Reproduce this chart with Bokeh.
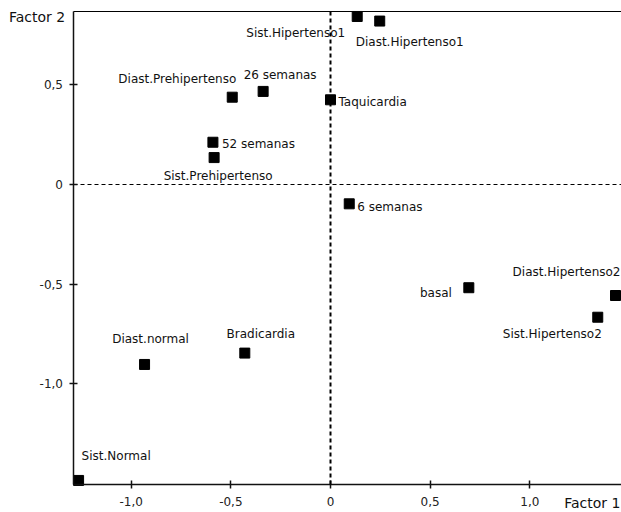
from bokeh.plotting import figure
from bokeh.models import ColumnDataSource, FixedTicker, Label, LinearAxis, Range1d
from bokeh.core.properties import value, field
from bokeh.embed import file_html
from bokeh.resources import INLINE

# Data
names = ["Sist.Normal", "Diast.normal", "Bradicardia", "Diast.Prehipertenso", "26 semanas",
         "52 semanas", "Sist.Prehipertenso", "Taquicardia", "Sist.Hipertenso1",
         "Diast.Hipertenso1", "6 semanas", "basal", "Diast.Hipertenso2", "Sist.Hipertenso2"]
factor1 = [-1.264, -0.933, -0.43, -0.493, -0.338, -0.59, -0.584, 0.0, 0.134, 0.247,
           0.094, 0.694, 1.43, 1.341]
factor2 = [-1.485, -0.903, -0.846, 0.438, 0.467, 0.212, 0.135, 0.425, 0.843, 0.82,
           -0.097, -0.518, -0.557, -0.666]

tick_values = [-1.0, -0.5, 0.0, 0.5, 1.0]
tick_labels = ["-1,0", "-0,5", "0", "0,5", "1,0"]

# Plot box (axis extents) and the visible view
X_LO, X_HI = -1.292, 1.46
Y_LO, Y_HI = -1.505, 0.868
VIEW_X = (-1.6558, 1.4601)
VIEW_Y = (-1.6458, 0.9232)

# Label placement (pixels, style only)
label_align = ["left", "center", "center", "right", "center", "left", "center", "left",
               "right", "left", "left", "right", "right", "right"]
label_dx = [3, 6, 16, 4, 17, 9, 4, 8, -12, -24, 8, -17, 5, 4]
label_dy = [-24, -25, -19, -18, -16, 2, 18, 2, 17, 21, 3, 5, -24, 17]

src = ColumnDataSource(dict(f1=factor1, f2=factor2, name=names, align=label_align,
                            dx=label_dx, dy=label_dy))

p = figure(width=621, height=512, output_backend="svg", toolbar_location=None,
           x_range=Range1d(*VIEW_X), y_range=Range1d(*VIEW_Y),
           x_axis_location=None, y_axis_location=None,
           min_border_left=0, min_border_right=0, min_border_top=0, min_border_bottom=0,
           background_fill_color="white", border_fill_color="white")
p.outline_line_color = None
p.xgrid.visible = False
p.ygrid.visible = False

overrides = {v: t for v, t in zip(tick_values, tick_labels)}


def main_axis(loc, bounds, standoff):
    ax = LinearAxis(fixed_location=loc, bounds=bounds, ticker=FixedTicker(ticks=tick_values))
    ax.major_label_overrides = overrides
    ax.minor_tick_line_color = None
    ax.major_tick_in = 4
    ax.major_tick_out = 4
    ax.axis_line_width = 1.5
    ax.axis_line_color = "#111111"
    ax.major_tick_line_color = "#111111"
    ax.major_tick_line_width = 1.5
    ax.major_label_text_font = "DejaVu Sans"
    ax.major_label_text_font_size = "12px"
    ax.major_label_text_color = "#222222"
    ax.major_label_standoff = standoff
    return ax


def plain_axis(loc, bounds, width, dash):
    return LinearAxis(fixed_location=loc, bounds=bounds, ticker=FixedTicker(ticks=[]),
                      major_label_text_font_size="0px", major_tick_in=0, major_tick_out=0,
                      minor_tick_in=0, minor_tick_out=0, axis_line_color="black",
                      axis_line_width=width, axis_line_dash=dash)


p.add_layout(main_axis(X_LO, (Y_LO, Y_HI), 6), "left")
p.add_layout(main_axis(Y_LO, (X_LO, X_HI), 9), "below")
p.add_layout(plain_axis(Y_HI, (X_LO, X_HI), 1, "solid"), "above")
p.add_layout(plain_axis(0, (Y_LO, Y_HI), 2, "4 3"), "left")
p.add_layout(plain_axis(0, (X_LO, X_HI), 1, "4 3"), "below")

p.scatter(x="f1", y="f2", source=src, marker="square", size=10, color="black")
p.text(x="f1", y="f2", text="name", source=src, text_align=field("align"),
       x_offset="dx", y_offset="dy", text_baseline="middle",
       text_font=value("DejaVu Sans"), text_font_size="12px", text_color="#111111")

p.add_layout(Label(x=X_LO, y=Y_HI, x_offset=-64, y_offset=-5.5, text="Factor 2",
                   text_align="left", text_baseline="middle", text_font="DejaVu Sans",
                   text_font_size="14px", text_color="#111111"))
p.add_layout(Label(x=X_HI, y=Y_LO, x_offset=-1, y_offset=-18.5, text="Factor 1",
                   text_align="right", text_baseline="middle", text_font="DejaVu Sans",
                   text_font_size="14px", text_color="#111111"))

open("out.html", "w").write(file_html(p, INLINE))
